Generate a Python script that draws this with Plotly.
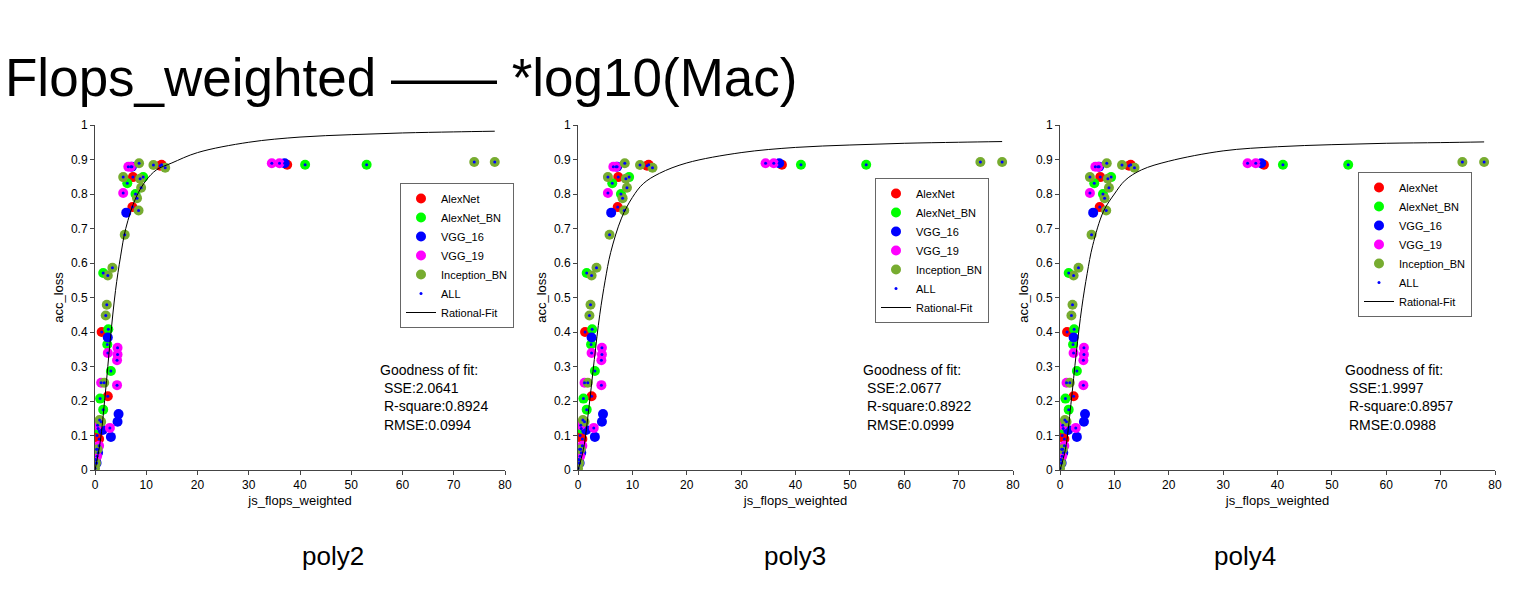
import plotly.graph_objects as go

# data points (same in all three panels)
alex_x = [12.7, 13.0, 7.4, 7.3, 1.3, 2.5, 0.4, 37.5, 0.8, 0.2]
alex_y = [0.882, 0.885, 0.849, 0.762, 0.40, 0.214, 0.10, 0.885, 0.09, 0.03]
alexbn_x = [6.3, 9.4, 7.9, 2.6, 2.4, 3.1, 1.0, 1.6, 1.6, 41.0, 53.0, 0.3, 0.1, 0.6]
alexbn_y = [0.831, 0.849, 0.80, 0.408, 0.364, 0.287, 0.207, 0.175, 0.571, 0.885, 0.885, 0.06, 0.03, 0.12]
vgg16_x = [6.1, 2.5, 4.6, 4.4, 3.1, 1.5, 37.0, 7.2, 0.6, 0.3]
vgg16_y = [0.746, 0.384, 0.162, 0.14, 0.096, 0.116, 0.889, 0.879, 0.05, 0.02]
vgg19_x = [6.5, 7.0, 5.5, 4.4, 4.4, 4.3, 4.3, 2.5, 1.2, 2.9, 0.5, 34.5, 36.0, 0.8, 0.4]
vgg19_y = [0.879, 0.879, 0.803, 0.354, 0.335, 0.318, 0.246, 0.339, 0.253, 0.122, 0.13, 0.889, 0.889, 0.07, 0.04]
incep_x = [8.6, 11.4, 13.7, 5.5, 9.0, 8.8, 8.2, 8.5, 5.8, 3.4, 2.5, 2.3, 2.1, 1.8, 0.9, 0.0, 74.0, 78.0, 0.5, 0.2, 1.2]
incep_y = [0.889, 0.884, 0.876, 0.849, 0.818, 0.844, 0.788, 0.752, 0.682, 0.586, 0.564, 0.479, 0.448, 0.253, 0.145, 0.005, 0.893, 0.893, 0.06, 0.02, 0.14]

# fitted curves
fit_x = [0, 1, 2, 3, 4, 5, 6, 8, 10, 12, 15, 20, 30, 40, 50, 60, 70, 78]
fit_y1 = [0, 0.08, 0.22, 0.38, 0.52, 0.62, 0.70, 0.79, 0.84, 0.87, 0.89, 0.92, 0.95, 0.965, 0.972, 0.977, 0.98, 0.982]
fit_y2 = [0, 0.06, 0.18, 0.32, 0.45, 0.55, 0.63, 0.73, 0.79, 0.83, 0.86, 0.89, 0.92, 0.935, 0.942, 0.947, 0.95, 0.952]
fit_y3 = [0, 0.06, 0.19, 0.34, 0.47, 0.57, 0.65, 0.75, 0.80, 0.84, 0.87, 0.895, 0.925, 0.937, 0.943, 0.947, 0.949, 0.951]

names = ["poly2", "poly3", "poly4"]
sse = ["2.0641", "2.0677", "1.9997"]
rsq = ["0.8924", "0.8922", "0.8957"]
rmse = ["0.0994", "0.0999", "0.0988"]

xdom = [[87 / 1517, 497 / 1517], [570 / 1517, 1005 / 1517], [1052 / 1517, 1487 / 1517]]
ydom = [1 - 462 / 591, 1 - 117 / 591]
leg_pos = [(392, 175), (867, 170), (1350, 164)]
fits = [fit_y1, fit_y2, fit_y3]

groups = [("AlexNet", alex_x, alex_y, "#ff0000"),
          ("AlexNet_BN", alexbn_x, alexbn_y, "#00ff00"),
          ("VGG_16", vgg16_x, vgg16_y, "#0000ff"),
          ("VGG_19", vgg19_x, vgg19_y, "#ff00ff"),
          ("Inception_BN", incep_x, incep_y, "#77ac30")]

all_x = alex_x + alexbn_x + vgg16_x + vgg19_x + incep_x
all_y = alex_y + alexbn_y + vgg16_y + vgg19_y + incep_y

fig = go.Figure()
layout = {}
for i in range(3):
    sx = "" if i == 0 else str(i + 1)
    lg = "legend" if i == 0 else "legend" + str(i + 1)
    for name, gx, gy, col in groups:
        fig.add_trace(go.Scatter(x=gx, y=gy, mode="markers", name=name, legend=lg,
                                 marker=dict(color=col, size=10),
                                 xaxis="x" + sx, yaxis="y" + sx))
    fig.add_trace(go.Scatter(x=all_x, y=all_y, mode="markers", name="ALL", legend=lg,
                             marker=dict(color="#0000ff", size=3),
                             xaxis="x" + sx, yaxis="y" + sx))
    fig.add_trace(go.Scatter(x=fit_x, y=fits[i], mode="lines", name="Rational-Fit", legend=lg,
                             line=dict(color="black", width=1, shape="spline"),
                             xaxis="x" + sx, yaxis="y" + sx))
    layout["xaxis" + sx] = dict(domain=xdom[i], range=[0, 80], dtick=10, anchor="y" + sx,
                                showline=True, linecolor="#444", ticks="outside", ticklen=4,
                                showgrid=False, zeroline=False, tickfont=dict(size=12),
                                title=dict(text="js_flops_weighted", font=dict(size=13), standoff=4))
    layout["yaxis" + sx] = dict(domain=ydom, range=[0, 1], dtick=0.1, anchor="x" + sx,
                                showline=True, linecolor="#444", ticks="outside", ticklen=4,
                                showgrid=False, zeroline=False, tickfont=dict(size=12),
                                title=dict(text="acc_loss", font=dict(size=13), standoff=4))
    lx, ly = leg_pos[i]
    layout[lg] = dict(x=lx / 1517, y=1 - ly / 591, xanchor="left", yanchor="top",
                      bgcolor="white", bordercolor="#666", borderwidth=1,
                      font=dict(size=11, family="Arial"), tracegroupgap=0,
                      itemwidth=30)
    x0 = xdom[i][0] + (283 / 1517)
    fig.add_annotation(xref="paper", yref="paper", x=x0, y=1 - 352 / 591, xanchor="left", yanchor="top",
                       align="left", showarrow=False, font=dict(size=14, family="Arial"),
                       text="Goodness of fit:<br> SSE:" + sse[i] + "<br> R-square:" + rsq[i] + "<br> RMSE:" + rmse[i])
    fig.add_annotation(xref="paper", yref="paper", x=(xdom[i][0] + xdom[i][1]) / 2, y=1 - 565 / 591,
                       showarrow=False, font=dict(size=26, family="Arial"), text=names[i])

fig.add_annotation(xref="paper", yref="paper", x=-0.003, y=1 - 38 / 591, xanchor="left",
                   showarrow=False, font=dict(size=53, family="Arial"),
                   text="Flops_weighted —— *log10(Mac)")

fig.update_layout(width=1517, height=591, margin=dict(l=0, r=0, t=0, b=0, autoexpand=False),
                  plot_bgcolor="white", paper_bgcolor="white",
                  font=dict(family="Arial", color="black"), **layout)
fig.write_html("out.html")
